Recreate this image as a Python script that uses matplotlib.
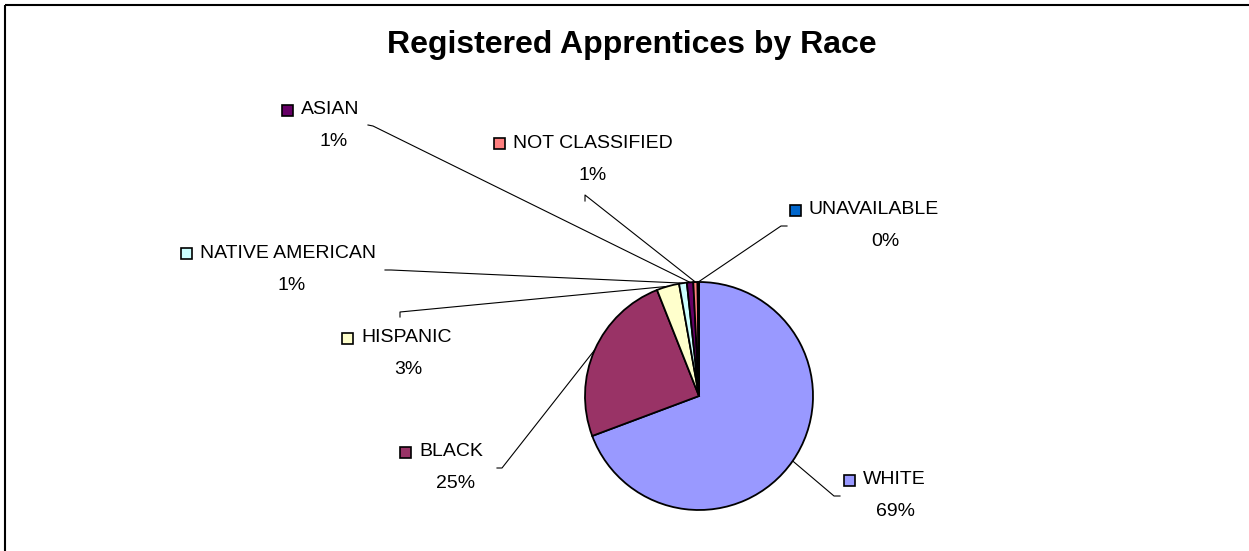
import numpy as np
import matplotlib
matplotlib.use("Agg")
import matplotlib.pyplot as plt
from matplotlib.patches import Rectangle

plt.rcParams['font.family'] = ['Liberation Sans', 'DejaVu Sans']

# share of registered apprentices, percent
races = ["WHITE", "BLACK", "HISPANIC", "NATIVE AMERICAN", "ASIAN",
         "NOT CLASSIFIED", "UNAVAILABLE"]
shares = [69.3, 24.7, 3.2, 1.1, 0.9, 0.6, 0.2]
colors = ["#9999FF", "#993366", "#FFFFCC", "#CCFFFF", "#660066",
          "#FF8080", "#0066CC"]

W, H = 1249, 551
CX, CY, R = 699, 396, 114

# label layout in pixels: square centre, name start x, percent centre, leader path
label_pos = {
    "WHITE":           dict(sq=(850, 480), pct=(896, 511), path=[(840, 496), (834, 496)]),
    "BLACK":           dict(sq=(406, 452), pct=(456, 483), path=[(497, 468), (502, 468)]),
    "HISPANIC":        dict(sq=(348, 338), pct=(408, 370), path=[(400, 317), (400, 312)]),
    "NATIVE AMERICAN": dict(sq=(187, 253), pct=(292, 285), path=[(385, 270), (391, 270)]),
    "ASIAN":           dict(sq=(288, 110), pct=(334, 142), path=[(368, 125), (373, 126)]),
    "NOT CLASSIFIED":  dict(sq=(500, 143), pct=(593, 176), path=[(585, 201), (585, 195)]),
    "UNAVAILABLE":     dict(sq=(796, 210), pct=(885, 242), path=[(787, 226), (781, 226)]),
}

fig = plt.figure(figsize=(W / 100, H / 100), dpi=100)

# overlay in pixel units for frame, labels and leader lines
ov = fig.add_axes([0, 0, 1, 1])
ov.set_xlim(0, W)
ov.set_ylim(H, 0)
ov.axis("off")

ov.add_patch(Rectangle((5, 5), W + 20, H + 20, fill=False, ec="#000000", lw=1.5,
                       clip_on=False))

ov.text(632, 45, "Registered Apprentices by Race", ha="center", va="center",
        fontsize=23, fontweight="bold")

pie_ax = fig.add_axes([(CX - R) / W, (H - CY - R) / H, 2 * R / W, 2 * R / H])
wedges, _ = pie_ax.pie(shares, colors=colors, startangle=90, counterclock=False,
                       wedgeprops=dict(edgecolor="black", linewidth=1.3))
pie_ax.set_xlim(-1, 1)
pie_ax.set_ylim(-1, 1)
pie_ax.set_aspect("equal")
pie_ax.axis("off")

total = sum(shares)
for name, val, col, w in zip(races, shares, colors, wedges):
    lp = label_pos[name]
    mid = np.deg2rad((w.theta1 + w.theta2) / 2)
    edge = (CX + R * np.cos(mid), CY - R * np.sin(mid))
    xs = [p[0] for p in lp["path"]] + [edge[0]]
    ys = [p[1] for p in lp["path"]] + [edge[1]]
    ov.plot(xs, ys, color="black", lw=0.8, zorder=1)

    sx, sy = lp["sq"]
    ov.add_patch(Rectangle((sx - 5.5, sy - 5.5), 11, 11, fc=col, ec="black", lw=1.2))
    ov.text(sx + 13, sy, name, ha="left", va="center", fontsize=14)
    pct = int(round(val / total * 100))
    ov.text(lp["pct"][0], lp["pct"][1], f"{pct}%", ha="center", va="center",
            fontsize=14)

fig.savefig("out.png", dpi=100)
